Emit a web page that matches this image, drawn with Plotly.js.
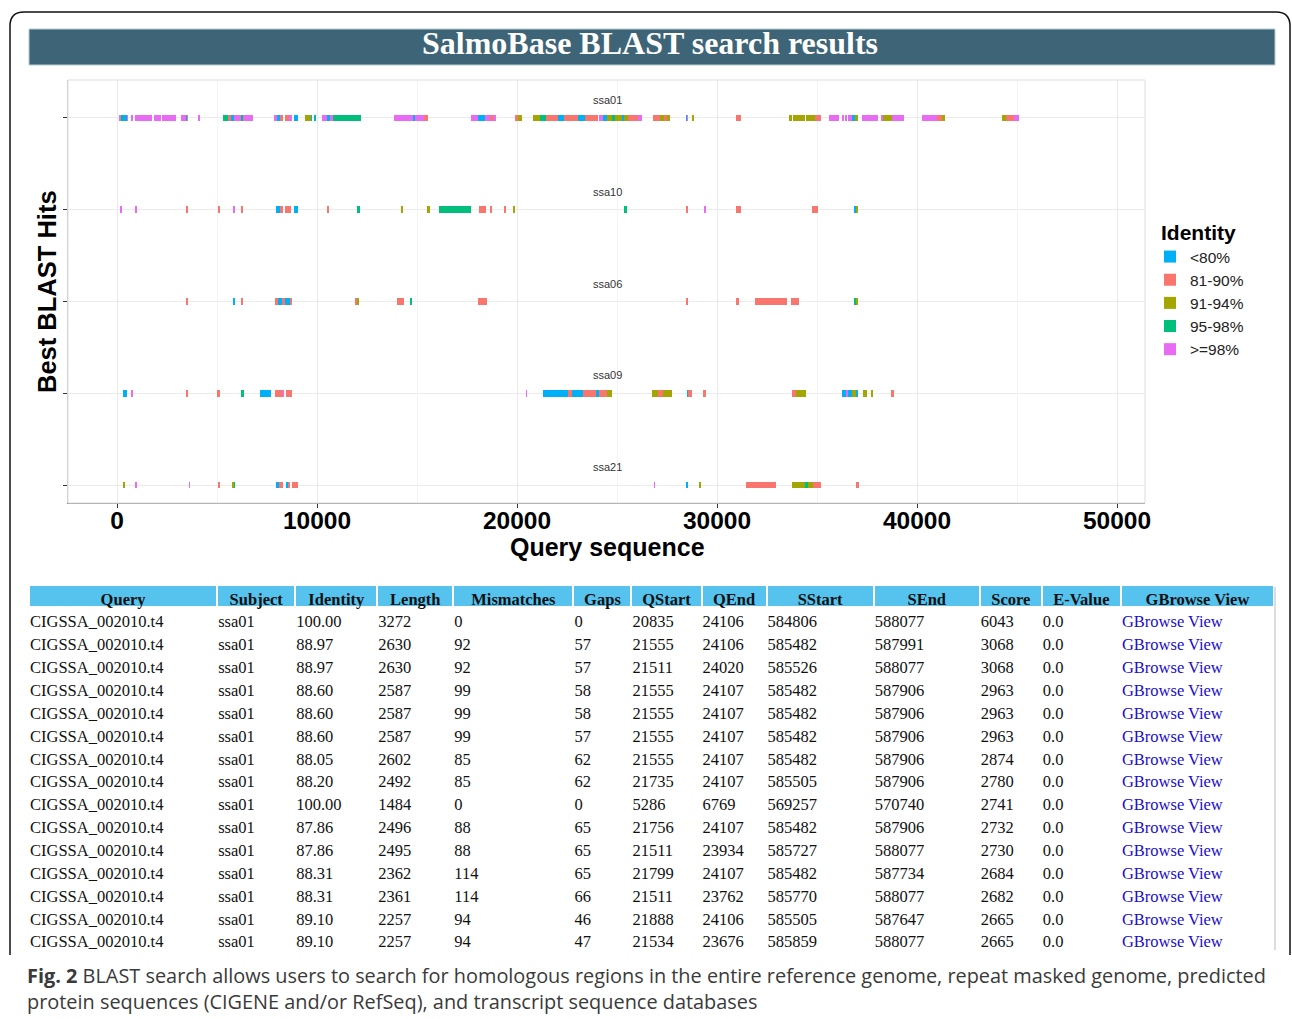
<!DOCTYPE html>
<html>
<head>
<meta charset="utf-8">
<script src="https://cdn.plot.ly/plotly-3.0.1.min.js"></script>
<style>
  html, body { margin: 0; padding: 0; background: #ffffff; }
  #chart { width: 1292px; height: 1019px; }
</style>
</head>
<body>
<div id="chart"></div>
<script>
// ---------------- DATA ----------------
const tracks = ['ssa01', 'ssa10', 'ssa06', 'ssa09', 'ssa21'];
const identityClasses = ['<80%', '81-90%', '91-94%', '95-98%', '>=98%'];
const identityColors = ['#00B0F6', '#F8766D', '#A3A500', '#00BF7D', '#E76BF3'];

// segments: [query start, query end, identity class index]
const ssa01 = [
  [100,200,4],[200,300,3],[300,500,0],[500,550,4],[700,800,4],[900,1750,4],[1830,2200,4],[2250,2950,4],
  [3200,3450,4],[3450,3500,3],[3500,3550,4],[4050,4150,4],
  [5275,5550,3],[5550,5700,1],[5700,5850,0],[5850,6200,4],[6200,6275,3],[6275,6800,4],
  [7850,8000,4],[8000,8150,0],[8150,8300,1],[8400,8600,1],[8600,8750,4],[8850,9025,0],
  [9400,9700,2],[9700,9750,0],[9825,9900,0],[9900,9950,3],
  [10250,10500,4],[10500,10650,0],[10650,10800,4],[10800,12200,3],
  [13850,14800,4],[14800,14900,0],[14900,15350,4],[15350,15550,1],
  [17700,18050,4],[18050,18400,0],[18400,18650,4],[18650,18800,1],[18800,18950,4],
  [19900,20050,1],[20050,20250,2],
  [20800,21150,2],[21150,21450,3],[21450,22050,1],[22050,22350,0],[22350,23050,1],[23050,23400,0],
  [23400,24050,1],[24100,24300,4],[24300,24500,0],[24500,24750,2],[24750,24900,3],[24900,25250,2],
  [25250,25350,0],[25350,25550,2],[25550,26050,1],[26050,26250,4],
  [26800,27150,1],[27150,27350,2],[27350,27500,1],[27500,27650,2],
  [28450,28500,0],[28500,28550,4],[28750,28850,2],
  [30950,31200,1],
  [33600,33750,2],[33800,34400,2],[34450,34900,2],[34900,35200,1],
  [35600,36100,4],[36250,36325,4],[36400,36500,4],[36550,36750,4],[36750,36900,0],[36900,37050,2],
  [37250,38050,4],[38200,38300,4],[38300,38750,2],[38750,39350,4],
  [40250,41000,4],[41000,41250,1],[41250,41400,2],
  [44250,44450,2],[44450,44850,1],[44850,45100,4]
];
const ssa10 = [
  [150,250,4],[880,1000,4],[3450,3550,1],[5050,5170,1],[5800,5900,4],[6200,6300,1],
  [7950,8150,0],[8150,8300,1],[8400,8700,1],[8850,9030,0],[10500,10620,1],[12020,12150,3],
  [14180,14320,2],[15520,15640,2],[16100,17700,3],[18080,18450,1],[18650,18750,1],[19350,19470,1],
  [19780,19880,2],[25350,25480,3],[28450,28570,1],[29370,29450,4],[30950,31200,1],[34750,35050,1],
  [36850,36930,0],[36930,37050,2]
];
const ssa06 = [
  [3450,3550,1],[5800,5920,0],[6200,6320,1],
  [7900,8050,1],[8050,8250,0],[8250,8400,1],[8400,8650,0],[8650,8750,1],
  [11880,12000,1],[12000,12100,2],[14000,14330,1],[14650,14750,3],[18050,18520,1],
  [28450,28570,1],[30950,31100,1],[31900,33500,1],[33700,34100,1],[36850,36950,3],[36950,37050,2]
];
const ssa09 = [
  [275,500,0],[720,800,4],[3450,3550,1],[5000,5150,1],[6220,6330,3],[7150,7700,0],
  [7900,8300,1],[8300,8350,4],[8450,8750,1],[20430,20500,4],
  [21300,22550,0],[22550,22750,1],[22750,23300,0],[23300,23950,1],[23950,24100,0],[24100,24500,1],[24500,24750,2],
  [26750,27050,2],[27050,27300,1],[27300,27750,2],[28480,28530,0],[28550,28750,1],[29300,29450,1],
  [33750,33950,1],[33950,34450,2],
  [36250,36450,0],[36450,36550,4],[36550,36750,0],[36750,36950,2],[36950,37050,0],
  [37300,37500,2],[37720,37800,2],[38700,38850,1]
];
const ssa21 = [
  [280,380,2],[880,980,4],[3580,3650,4],[5050,5170,1],[5750,5830,2],[5830,5900,3],
  [7950,8100,0],[8100,8300,1],[8450,8550,0],[8550,8650,1],[8750,9030,1],
  [26850,26920,4],[28470,28550,0],[29120,29220,2],[31450,32950,1],
  [33750,34400,2],[34400,34550,3],[34550,34800,2],[34800,35200,1],[36950,37080,1]
];
const trackSegments = [ssa01, ssa10, ssa06, ssa09, ssa21];

// table
const tableHeaders = ['Query','Subject','Identity','Length','Mismatches','Gaps','QStart','QEnd','SStart','SEnd','Score','E-Value','GBrowse View'];
const colQuery = Array(15).fill('CIGSSA_002010.t4');
const colSubject = Array(15).fill('ssa01');
const colIdentity = ['100.00','88.97','88.97','88.60','88.60','88.60','88.05','88.20','100.00','87.86','87.86','88.31','88.31','89.10','89.10'];
const colLength = [3272,2630,2630,2587,2587,2587,2602,2492,1484,2496,2495,2362,2361,2257,2257];
const colMismatches = [0,92,92,99,99,99,85,85,0,88,88,114,114,94,94];
const colGaps = [0,57,57,58,58,57,62,62,0,65,65,65,66,46,47];
const colQStart = [20835,21555,21511,21555,21555,21555,21555,21735,5286,21756,21511,21799,21511,21888,21534];
const colQEnd = [24106,24106,24020,24107,24107,24107,24107,24107,6769,24107,23934,24107,23762,24106,23676];
const colSStart = [584806,585482,585526,585482,585482,585482,585482,585505,569257,585482,585727,585482,585770,585505,585859];
const colSEnd = [588077,587991,588077,587906,587906,587906,587906,587906,570740,587906,588077,587734,588077,587647,588077];
const colScore = [6043,3068,3068,2963,2963,2963,2874,2780,2741,2732,2730,2684,2682,2665,2665];
const colEValue = Array(15).fill('0.0');
const colGBrowse = Array(15).fill('GBrowse View');

// ---------------- BUILD ----------------
const W = 1292, H = 1019;
const px = v => v / W;
const py = v => 1 - v / H;

const traces = identityClasses.map((name, ci) => {
  const base = [], len = [], ys = [];
  trackSegments.forEach((segs, ti) => {
    segs.forEach(s => {
      if (s[2] === ci) { base.push(s[0]); len.push(s[1] - s[0]); ys.push(tracks[ti]); }
    });
  });
  return {
    type: 'bar', orientation: 'h', name: name,
    base: base, x: len, y: ys, width: 0.075,
    marker: { color: identityColors[ci], line: { width: 0 } },
    hoverinfo: 'skip', xaxis: 'x', yaxis: 'y'
  };
});

const colWidths = [188,78,82,76,120,58,70,65,107,106,62,79,153];
const tableCols = [colQuery, colSubject, colIdentity, colLength, colMismatches, colGaps, colQStart,
  colQEnd, colSStart, colSEnd, colScore, colEValue, colGBrowse];
const fontColors = tableCols.map((c, i) => i === tableCols.length - 1 ? '#1a0dcc' : '#111111');

// header row
traces.push({
  type: 'table',
  domain: { x: [px(29), px(1274)], y: [py(640), py(585)] },
  columnwidth: colWidths,
  header: {
    values: tableHeaders,
    align: 'center', height: 22,
    fill: { color: '#55c3ee' },
    line: { color: '#ffffff', width: 2 },
    font: { family: 'Liberation Serif', size: 16.5, weight: 'bold', color: '#111111' }
  },
  cells: { values: [] }
});
// body rows (text flush-left as in the reference)
traces.push({
  type: 'table',
  domain: { x: [px(22), px(1267)], y: [py(960), py(591)] },
  columnwidth: colWidths,
  header: {
    values: [], height: 1,
    fill: { color: 'rgba(0,0,0,0)' }, line: { color: 'rgba(0,0,0,0)', width: 0 }
  },
  cells: {
    values: tableCols,
    align: 'left', height: 22.86,
    fill: { color: 'rgba(0,0,0,0)' },
    line: { color: 'rgba(0,0,0,0)', width: 0 },
    font: { family: 'Liberation Serif', size: 16.5, color: fontColors }
  }
});

const annotations = [];
tracks.forEach((t, i) => {
  annotations.push({
    xref: 'x', yref: 'y', x: 24500, y: i, yshift: 18, text: t, showarrow: false,
    font: { family: 'Liberation Sans', size: 11, color: '#333333' }
  });
});
annotations.push({
  xref: 'paper', yref: 'paper', x: px(650), y: py(43), text: 'SalmoBase BLAST search results',
  showarrow: false, xanchor: 'center', yanchor: 'middle',
  font: { family: 'Liberation Serif', size: 32, weight: 'bold', color: '#ffffff' }
});
// axis titles
annotations.push({
  xref: 'paper', yref: 'paper', x: px(607), y: py(547), text: 'Query sequence',
  showarrow: false, xanchor: 'center', yanchor: 'middle',
  font: { family: 'Liberation Sans', size: 25, weight: 'bold', color: '#000000' }
});
annotations.push({
  xref: 'paper', yref: 'paper', x: px(47), y: py(291), text: 'Best BLAST Hits', textangle: -90,
  showarrow: false, xanchor: 'center', yanchor: 'middle',
  font: { family: 'Liberation Sans', size: 25.5, weight: 'bold', color: '#000000' }
});
// legend title
annotations.push({
  xref: 'paper', yref: 'paper', x: px(1159), y: py(232), text: 'Identity',
  showarrow: false, xanchor: 'left', yanchor: 'middle',
  font: { family: 'Liberation Sans', size: 21, weight: 'bold', color: '#000000' }
});
annotations.push({
  xref: 'paper', yref: 'paper', x: px(25), y: py(960), xanchor: 'left', yanchor: 'top', align: 'left',
  text: '<b>Fig. 2</b> BLAST search allows users to search for homologous regions in the entire reference genome, repeat masked genome, predicted<br>protein sequences (CIGENE and/or RefSeq), and transcript sequence databases',
  showarrow: false,
  font: { family: 'Open Sans', size: 19.9, color: '#3a3a3a' }
});

const r = 14;
const bx0 = px(10), bx1 = px(1290), by0 = py(12), byb = py(955);
const outline = `M ${bx0},${byb} L ${bx0},${py(12 + r)} Q ${bx0},${by0} ${px(10 + r)},${by0} L ${px(1290 - r)},${by0} Q ${bx1},${by0} ${bx1},${py(12 + r)} L ${bx1},${byb}`;

const shapes = [
  { type: 'path', xref: 'paper', yref: 'paper', path: outline, line: { color: '#111111', width: 1.5 } },
  { type: 'rect', xref: 'paper', yref: 'paper', x0: px(29), x1: px(1275), y0: py(65), y1: py(29),
    fillcolor: '#3e6478', line: { color: '#b8ccd6', width: 1 }, layer: 'below' },
  { type: 'rect', xref: 'x domain', yref: 'y domain', x0: 0, x1: 1, y0: 0, y1: 1,
    line: { color: '#dddddd', width: 1 }, fillcolor: 'rgba(0,0,0,0)', layer: 'above' },
  { type: 'line', xref: 'paper', yref: 'paper', x0: px(1275), x1: px(1275), y0: py(950), y1: py(587),
    line: { color: '#bbbbbb', width: 1 } }
];

const layout = {
  width: W, height: H,
  margin: { l: 0, r: 0, t: 0, b: 0, pad: 0 },
  paper_bgcolor: '#ffffff', plot_bgcolor: '#ffffff',
  barmode: 'overlay', bargap: 0,
  font: { family: 'Liberation Sans', color: '#000000' },
  xaxis: {
    domain: [px(68), px(1145)], range: [-2450, 51400],
    tick0: 0, dtick: 10000, tickformat: 'd',
    ticks: 'outside', ticklen: 4, tickcolor: '#333333', ticklabelstandoff: -9,
    tickfont: { family: 'Liberation Sans', size: 24.5, weight: 'bold', color: '#000000' },
    showgrid: true, gridcolor: '#ebebeb', gridwidth: 1,
    minor: { tick0: 0, dtick: 5000, showgrid: true, gridcolor: '#f4f4f4', ticks: '' },
    showline: true, linecolor: '#8a8a8a', linewidth: 1.2, zeroline: false,
    automargin: false, fixedrange: true
  },
  yaxis: {
    domain: [py(503), py(80)], type: 'category', categoryarray: tracks, categoryorder: 'array',
    range: [4.196, -0.414],
    showticklabels: false, ticks: 'outside', ticklen: 4, tickcolor: '#333333',
    showgrid: true, gridcolor: '#ebebeb', gridwidth: 1,
    showline: true, linecolor: '#cccccc', zeroline: false,
    automargin: false, fixedrange: true
  },
  showlegend: true,
  legend: {
    x: px(1150), y: py(240), xanchor: 'left', yanchor: 'top',
    font: { family: 'Liberation Sans', size: 15.5, color: '#222222' },
    bgcolor: 'rgba(0,0,0,0)', traceorder: 'normal', itemwidth: 30
  },
  annotations: annotations,
  shapes: shapes
};

Plotly.newPlot('chart', traces, layout, { displayModeBar: false, staticPlot: true });
</script>
</body>
</html>
